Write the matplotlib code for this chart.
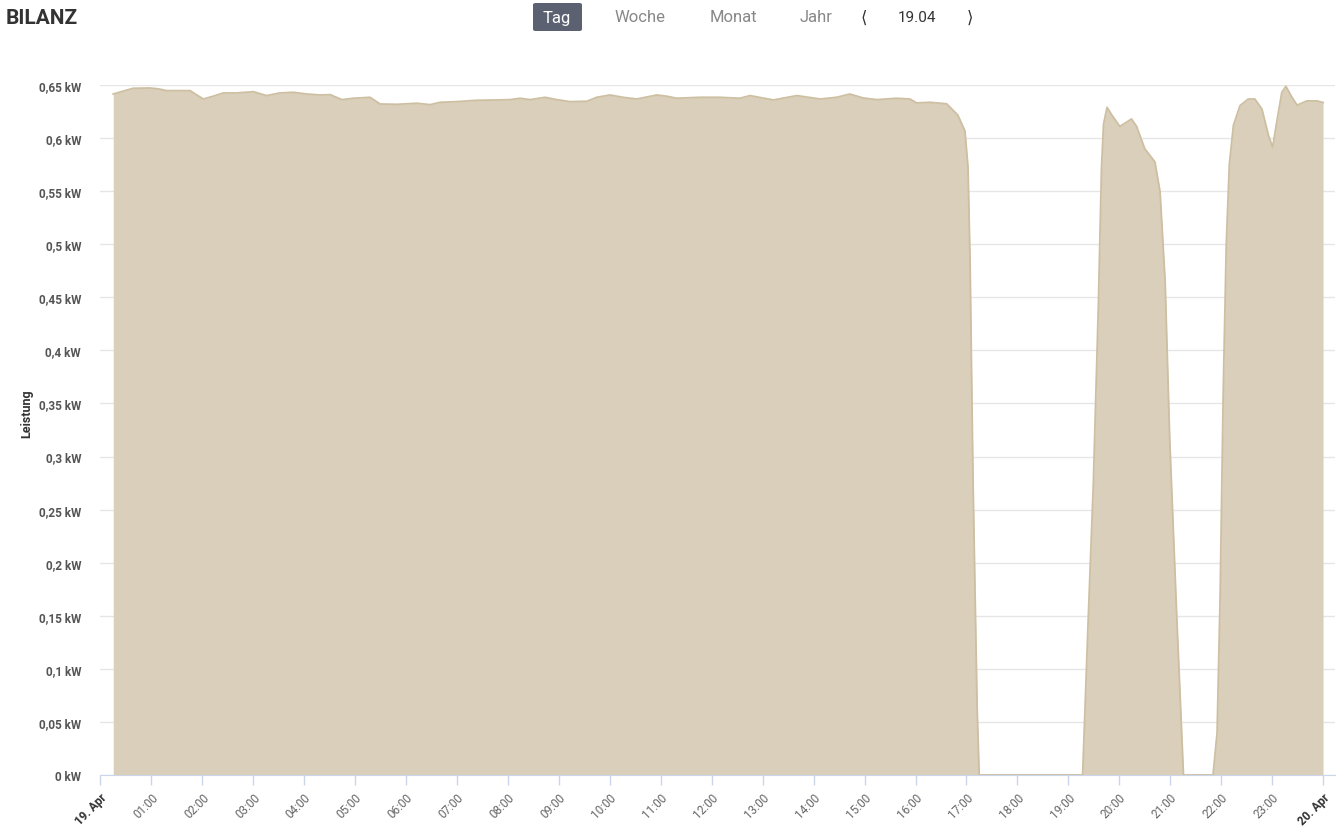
import matplotlib
matplotlib.use("Agg")
import matplotlib.pyplot as plt
from matplotlib.patches import FancyBboxPatch

# hours since 19. Apr 00:00 and power in kW
hours = [0.25, 0.64, 0.97, 1.14, 1.30, 1.76, 1.86, 2.02, 2.21, 2.41, 2.67, 3.00, 3.26,
         3.52, 3.79, 4.05, 4.31, 4.51, 4.74, 4.96, 5.29, 5.49, 5.82, 6.21, 6.47, 6.67,
         6.99, 7.39, 7.78, 8.04, 8.24, 8.43, 8.73, 8.96, 9.22, 9.55, 9.74, 10.00, 10.26,
         10.53, 10.92, 11.12, 11.31, 11.77, 12.16, 12.55, 12.75, 13.21, 13.67, 14.13,
         14.45, 14.71, 14.97, 15.24, 15.63, 15.89, 16.02, 16.28, 16.61, 16.83, 16.97,
         17.03, 17.07, 17.13, 17.21, 17.25, 19.28, 19.39, 19.49, 19.59, 19.65, 19.69,
         19.76, 19.85, 20.01, 20.24, 20.34, 20.50, 20.70, 20.80, 20.90, 20.99, 21.13,
         21.26, 21.84, 21.92, 21.98, 22.04, 22.10, 22.16, 22.24, 22.37, 22.53, 22.66,
         22.80, 22.93, 23.01, 23.09, 23.19, 23.27, 23.39, 23.49, 23.68, 23.88, 24.00]
power_kw = [0.6415, 0.6469, 0.6472, 0.6463, 0.6447, 0.6447, 0.6415, 0.6368, 0.6394, 0.6425,
            0.6425, 0.6437, 0.6400, 0.6425, 0.6431, 0.6415, 0.6406, 0.6409, 0.6362, 0.6375,
            0.6384, 0.6321, 0.6318, 0.6328, 0.6315, 0.6337, 0.6343, 0.6356, 0.6359, 0.6362,
            0.6375, 0.6362, 0.6384, 0.6362, 0.6343, 0.6347, 0.6384, 0.6406, 0.6384, 0.6368,
            0.6406, 0.6394, 0.6375, 0.6384, 0.6384, 0.6375, 0.6400, 0.6359, 0.6400, 0.6368,
            0.6384, 0.6415, 0.6378, 0.6362, 0.6375, 0.6368, 0.6331, 0.6337, 0.6323, 0.6217,
            0.6067, 0.5727, 0.4860, 0.2740, 0.0620, 0.0, 0.0, 0.147, 0.274, 0.444, 0.571,
            0.613, 0.629, 0.622, 0.611, 0.618, 0.611, 0.590, 0.5775, 0.5496, 0.465, 0.3165,
            0.147, 0.0, 0.0, 0.04, 0.17, 0.36, 0.50, 0.575, 0.612, 0.6306, 0.6368, 0.6368,
            0.6274, 0.6023, 0.5913, 0.6149, 0.6430, 0.6488, 0.6384, 0.6310, 0.6350, 0.6350,
            0.6335]

y_ticks = [0, 0.05, 0.1, 0.15, 0.2, 0.25, 0.3, 0.35, 0.4, 0.45, 0.5, 0.55, 0.6, 0.65]
y_labels = ["0 kW", "0,05 kW", "0,1 kW", "0,15 kW", "0,2 kW", "0,25 kW", "0,3 kW",
            "0,35 kW", "0,4 kW", "0,45 kW", "0,5 kW", "0,55 kW", "0,6 kW", "0,65 kW"]
x_labels = ["19. Apr"] + ["%02d:00" % h for h in range(1, 24)] + ["20. Apr"]
buttons = ["Tag", "Woche", "Monat", "Jahr"]

W, H = 1341, 829
fig = plt.figure(figsize=(W / 100, H / 100), dpi=100)
plt.rcParams["font.family"] = ["Roboto", "DejaVu Sans"]

ax = fig.add_axes([100.5 / W, 1 - 776 / H, (1335 - 100.5) / W, (776 - 86) / H])
ax.fill_between(hours, power_kw, 0, color="#dacfba", lw=0)
ax.plot(hours, power_kw, color="#cdbfa1", lw=1.3)

ax.set_xlim(0, (1335 - 100.5) / 50.94)
ax.set_ylim(0, 0.65)
ax.set_yticks(y_ticks)
ax.set_yticklabels(y_labels)
ax.set_xticks(range(25))
ax.set_xticklabels(x_labels, rotation=45, ha="right", va="top", rotation_mode="anchor")
for i, lab in enumerate(ax.get_xticklabels()):
    lab.set_color("#666666")
    lab.set_fontsize(8.5)
    if i in (0, 24):
        lab.set_fontweight("bold")
        lab.set_color("#333333")
for lab in ax.get_yticklabels():
    lab.set_color("#555555")
    lab.set_fontsize(8.5)
    lab.set_fontweight("bold")

ax.tick_params(axis="y", length=0, pad=14)
ax.tick_params(axis="x", length=7, width=1, color="#ccd6eb", pad=4, direction="out")
for s in ["top", "right", "left"]:
    ax.spines[s].set_visible(False)
ax.spines["bottom"].set_color("#ccd6eb")
ax.yaxis.grid(True, color="#e6e6e6", lw=1)
ax.set_axisbelow(True)
ax.set_facecolor("white")

fig.text(27 / W, 1 - 414 / H, "Leistung", rotation=90, ha="center", va="center",
         fontsize=9, color="#333333", fontweight="bold")

# header
fig.text(6 / W, 1 - 19 / H, "BILANZ", ha="left", va="center", fontsize=15,
         fontweight="bold", color="#333333")
fig.patches.append(FancyBboxPatch((533 / W, 1 - 32 / H), 49 / W, 28 / H,
                                  boxstyle="round,pad=0,rounding_size=0.002",
                                  transform=fig.transFigure, fc="#5b6170", ec="none"))
btn_x = [557, 640, 733, 816]
for bx, b in zip(btn_x, buttons):
    fig.text(bx / W, 1 - 18 / H, b, ha="center", va="center", fontsize=12,
             color="white" if b == "Tag" else "#888888")
fig.text(864 / W, 1 - 18 / H, "⟨", ha="center", va="center", fontsize=12,
         color="#333333", family=["DejaVu Sans"])
fig.text(917 / W, 1 - 18 / H, "19.04", ha="center", va="center", fontsize=11,
         color="#333333")
fig.text(970 / W, 1 - 18 / H, "⟩", ha="center", va="center", fontsize=12,
         color="#333333", family=["DejaVu Sans"])

fig.savefig("out.png", dpi=100)
